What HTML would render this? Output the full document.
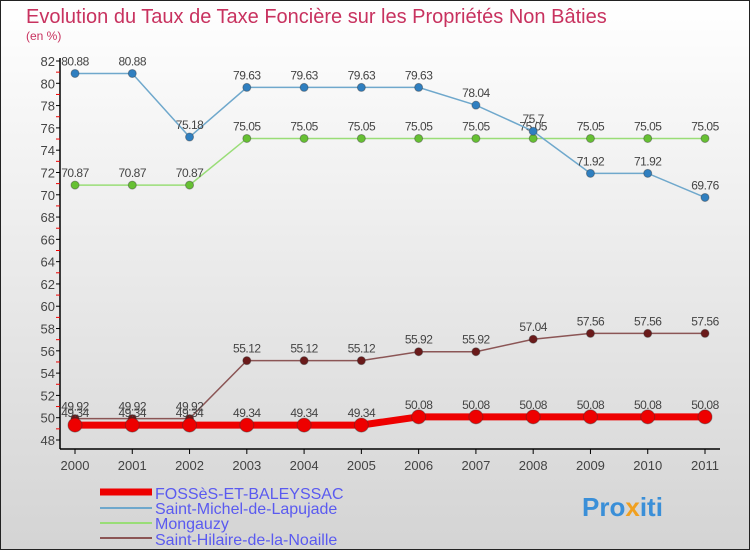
<!DOCTYPE html>
<html><head><meta charset="utf-8"><style>
body{margin:0}
#c{width:750px;height:550px;position:relative;overflow:hidden;font-family:"Liberation Sans",sans-serif}
</style></head><body>
<div id="c">
<svg id="s" width="750" height="550" xmlns="http://www.w3.org/2000/svg">
<defs><linearGradient id="bg" x1="0" y1="0" x2="0" y2="1"><stop offset="0" stop-color="#ffffff"/><stop offset="1" stop-color="#d4d4d4"/></linearGradient></defs>
<rect x="0.5" y="0.5" width="749" height="549" fill="url(#bg)" stroke="#222"/>
<text x="26" y="23" font-size="20" fill="#c8325f">Evolution du Taux de Taxe Foncière sur les Propriétés Non Bâties</text>
<text x="26" y="40" font-size="12" fill="#c8325f">(en %)</text>
<g id="axes"></g><g id="series"></g>
<g>
<line x1="100" y1="492" x2="152" y2="492" stroke="#e00" stroke-width="7"/>
<text x="155" y="499" font-size="16" fill="#5a5af0">FOSSèS-ET-BALEYSSAC</text>
<line x1="100" y1="508" x2="152" y2="508" stroke="#6fa8cc" stroke-width="2"/>
<text x="155" y="514" font-size="16" fill="#5a5af0">Saint-Michel-de-Lapujade</text>
<line x1="100" y1="523" x2="152" y2="523" stroke="#99dd77" stroke-width="2"/>
<text x="155" y="529" font-size="16" fill="#5a5af0">Mongauzy</text>
<line x1="100" y1="538" x2="152" y2="538" stroke="#8b5555" stroke-width="2"/>
<text x="155" y="545" font-size="16" fill="#5a5af0">Saint-Hilaire-de-la-Noaille</text>
</g>
<text x="582" y="516" font-size="26" font-weight="bold" fill="#3a8fd8">Pro<tspan fill="#f0a020">x</tspan>iti</text>
</svg></div>
<script>
const years=["2000","2001","2002","2003","2004","2005","2006","2007","2008","2009","2010","2011"];
const yTicks=[48,50,52,54,56,58,60,62,64,66,68,70,72,74,76,78,80,82];
const fosses=[49.34,49.34,49.34,49.34,49.34,49.34,50.08,50.08,50.08,50.08,50.08,50.08];
const saintMichel=[80.88,80.88,75.18,79.63,79.63,79.63,79.63,78.04,75.7,71.92,71.92,69.76];
const mongauzy=[70.87,70.87,70.87,75.05,75.05,75.05,75.05,75.05,75.05,75.05,75.05,75.05];
const saintHilaire=[49.92,49.92,49.92,55.12,55.12,55.12,55.92,55.92,57.04,57.56,57.56,57.56];
const NS="http://www.w3.org/2000/svg";
const X=i=>75+i*(630/11);
const Y=v=>440-(v-48)*(379/34);
function mk(t,a,p){const e=document.createElementNS(NS,t);for(const k in a)e.setAttribute(k,a[k]);p.appendChild(e);return e;}
const ax=document.getElementById('axes');
let e=mk('line',{x1:60,y1:58,x2:60,y2:449,stroke:'#000','stroke-width':1.5},ax);


e=mk('line',{x1:60,y1:449,x2:720,y2:449,stroke:'#000','stroke-width':1.5},ax);


yTicks.forEach(v=>{
 mk('line',{x1:56,y1:Y(v),x2:60,y2:Y(v),stroke:'#000'},ax);
 if(v<82)mk('line',{x1:56,y1:Y(v+1),x2:60,y2:Y(v+1),stroke:'#e00'},ax);
 const t=mk('text',{x:55,y:Y(v)+5,'font-size':13,fill:'#444','text-anchor':'end'},ax);t.textContent=v;
 
 
});
years.forEach((y,i)=>{
 mk('line',{x1:X(i),y1:449,x2:X(i),y2:454,stroke:'#000'},ax);
 const t=mk('text',{x:X(i),y:470,'font-size':13,fill:'#444','text-anchor':'middle'},ax);t.textContent=y;
 
 
});
const sg=document.getElementById('series');
function draw(vals,color,dot,w,r,name,lab){
 const g=mk('g',{},sg);
 
 
 mk('polyline',{points:vals.map((v,i)=>X(i)+','+Y(v)).join(' '),fill:'none',stroke:color,'stroke-width':w},g);
 vals.forEach((v,i)=>{
  const c=mk('circle',{cx:X(i),cy:Y(v),r:r,fill:dot,stroke:'#333','stroke-opacity':0.4},g);
  
  
  const t=mk('text',{x:X(i),y:Y(v)-8,'font-size':12,fill:'#444','text-anchor':'middle','letter-spacing':'-0.5'},g);
  t.textContent=String(v).replace('.',lab?'.':'.');
 });
}
draw(saintHilaire,'#8b5555','#6a1a1a',1.5,4,'saint-hilaire',1);
draw(mongauzy,'#99dd77','#66c033',1.5,4,'mongauzy',1);
draw(saintMichel,'#6fa8cc','#2f7fc0',1.5,4,'saint-michel',1);
draw(fosses,'#ee0000','#ee0000',7,7,'fosses',1);
</script>
</body></html>
